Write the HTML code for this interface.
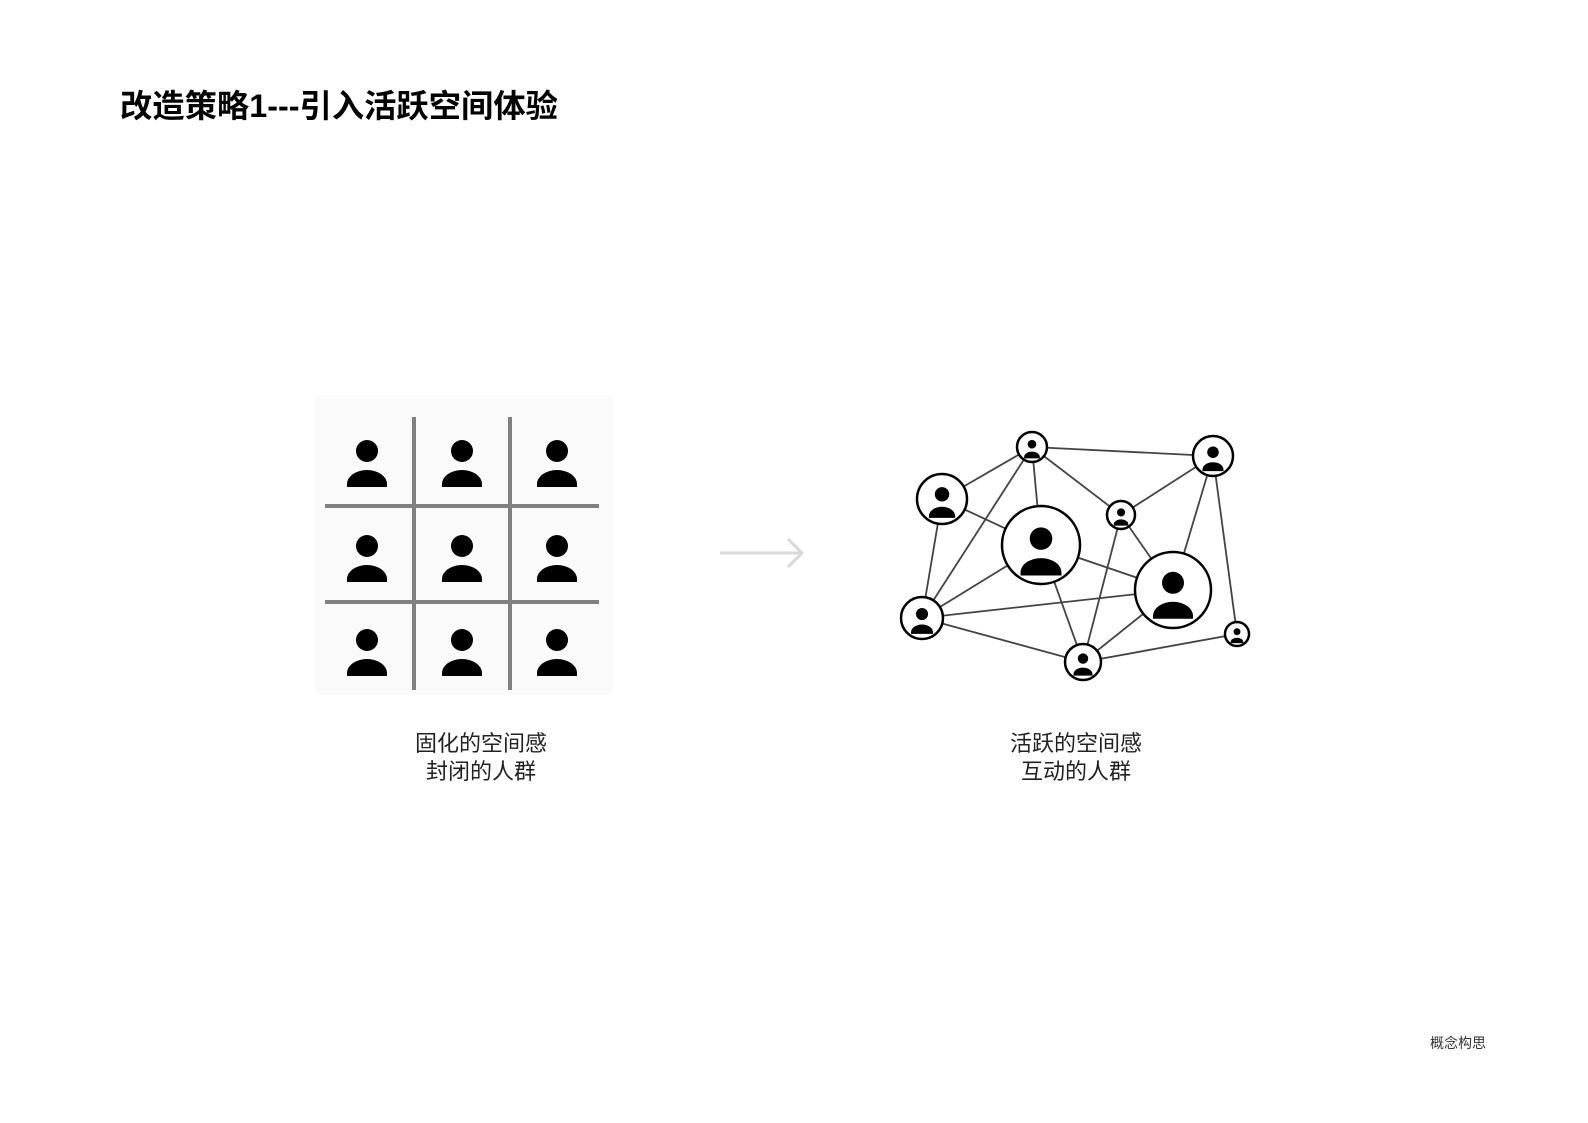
<!DOCTYPE html>
<html><head><meta charset="utf-8"><style>
html,body{margin:0;padding:0;background:#fff;}
svg{display:block;}
</style></head><body>
<svg width="1588" height="1123" viewBox="0 0 1588 1123" xmlns="http://www.w3.org/2000/svg" font-family="'Liberation Sans','Noto Sans CJK SC',sans-serif">
<defs>
<symbol id="p" viewBox="-1 -1 2 2" overflow="visible">
<circle cx="0" cy="-0.55" r="0.55" fill="#000"/>
<path d="M-1 1.25 L-1 1.1 A1 0.7 0 0 1 1 1.1 L1 1.25 Z" fill="#000"/>
</symbol>
</defs>
<text x="120" y="117" font-size="32" font-weight="bold" textLength="438" lengthAdjust="spacingAndGlyphs">改造策略1---引入活跃空间体验</text>

<rect x="315" y="395" width="298" height="300" fill="#fafafa"/>
<g stroke="#808080" stroke-width="4">
<line x1="414" y1="417" x2="414" y2="690"/>
<line x1="510" y1="417" x2="510" y2="690"/>
<line x1="325" y1="506" x2="599" y2="506"/>
<line x1="325" y1="602" x2="599" y2="602"/>
</g>
<g>
<use href="#p" x="347" y="442" width="40" height="40"/>
<use href="#p" x="442" y="442" width="40" height="40"/>
<use href="#p" x="537" y="442" width="40" height="40"/>
<use href="#p" x="347" y="537" width="40" height="40"/>
<use href="#p" x="442" y="537" width="40" height="40"/>
<use href="#p" x="537" y="537" width="40" height="40"/>
<use href="#p" x="347" y="631" width="40" height="40"/>
<use href="#p" x="442" y="631" width="40" height="40"/>
<use href="#p" x="537" y="631" width="40" height="40"/>
</g>

<g stroke="#d8d8d8" stroke-width="3" fill="none">
<line x1="720" y1="553" x2="802" y2="553"/>
<polyline points="788,539 802,553 788,567"/>
</g>

<g stroke="#444" stroke-width="1.8">
<line x1="1032" y1="447" x2="942" y2="499"/>
<line x1="1032" y1="447" x2="1213" y2="456"/>
<line x1="1032" y1="447" x2="1041" y2="545"/>
<line x1="1032" y1="447" x2="1121" y2="515"/>
<line x1="1032" y1="447" x2="922" y2="618"/>
<line x1="942" y1="499" x2="1041" y2="545"/>
<line x1="942" y1="499" x2="922" y2="618"/>
<line x1="1213" y1="456" x2="1121" y2="515"/>
<line x1="1213" y1="456" x2="1173" y2="590"/>
<line x1="1213" y1="456" x2="1237" y2="634"/>
<line x1="1121" y1="515" x2="1083" y2="662"/>
<line x1="1121" y1="515" x2="1173" y2="590"/>
<line x1="1041" y1="545" x2="922" y2="618"/>
<line x1="1041" y1="545" x2="1173" y2="590"/>
<line x1="1041" y1="545" x2="1083" y2="662"/>
<line x1="922" y1="618" x2="1173" y2="590"/>
<line x1="922" y1="618" x2="1083" y2="662"/>
<line x1="1173" y1="590" x2="1083" y2="662"/>
<line x1="1083" y1="662" x2="1237" y2="634"/>
</g>
<g fill="#fff" stroke="#000" stroke-width="2.5">
<circle cx="1032" cy="447" r="15"/>
<circle cx="1213" cy="456" r="20"/>
<circle cx="942" cy="499" r="25"/>
<circle cx="1121" cy="515" r="14"/>
<circle cx="1041" cy="545" r="39"/>
<circle cx="1173" cy="590" r="38"/>
<circle cx="922" cy="618" r="21"/>
<circle cx="1237" cy="634" r="12"/>
<circle cx="1083" cy="662" r="18"/>
</g>
<g>
<use href="#p" x="1024.1" y="440.6" width="15.75" height="15.75"/>
<use href="#p" x="1202.5" y="447.5" width="21" height="21"/>
<use href="#p" x="928.9" y="488.4" width="26.25" height="26.25"/>
<use href="#p" x="1113.7" y="509.1" width="14.7" height="14.7"/>
<use href="#p" x="1020.5" y="529.4" width="41" height="41"/>
<use href="#p" x="1153" y="573.8" width="40" height="40"/>
<use href="#p" x="911" y="609.1" width="22" height="22"/>
<use href="#p" x="1230.7" y="628.9" width="12.6" height="12.6"/>
<use href="#p" x="1073.5" y="654.3" width="19" height="19"/>
</g>

<g font-size="22" fill="#222" text-anchor="middle">
<text x="481" y="751">固化的空间感</text>
<text x="481" y="779">封闭的人群</text>
<text x="1076" y="751">活跃的空间感</text>
<text x="1076" y="779">互动的人群</text>
</g>
<text x="1430" y="1048" font-size="14" fill="#333">概念构思</text>
</svg>
</body></html>
